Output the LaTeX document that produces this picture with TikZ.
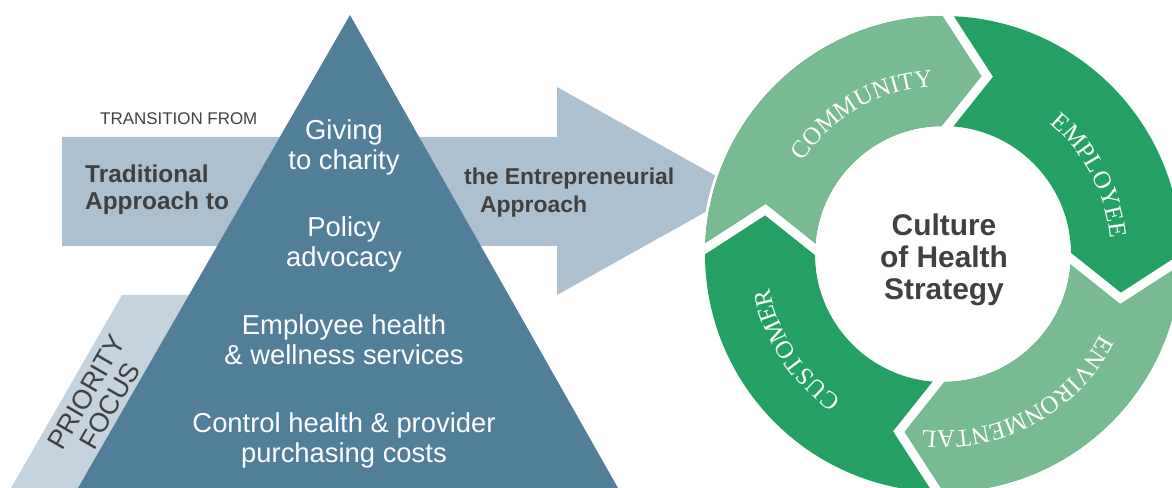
\documentclass[tikz,border=0pt]{standalone}
\usepackage{fontspec}
\setmainfont{Liberation Sans}
\newfontfamily\ringfont{Liberation Serif}
\newcommand\ringsize{\fontsize{25}{25}\selectfont}
\usetikzlibrary{decorations.text}
\definecolor{tricolor}{HTML}{517F99}
\definecolor{arrowcolor}{HTML}{ADC0CF}
\definecolor{bandcolor}{HTML}{C5D3DE}
\definecolor{ltgreen}{HTML}{78BA92}
\definecolor{dkgreen}{HTML}{25A065}
\definecolor{textgray}{HTML}{404040}
\tikzset{
  tritext/.style={text=white, align=center, inner sep=0pt, anchor=base, font=\fontsize{27.5}{31}\selectfont},
  graytext/.style={text=textgray, inner sep=0pt, font=\bfseries\fontsize{24.5}{27.5}\selectfont},
  ringlabel/.style={decorate, decoration={text along path, text align=center, text color=white}},
}
\begin{document}
\begin{tikzpicture}[x=1bp,y=1bp]
            \useasboundingbox (0,0) rectangle (1172,488);
            %\draw[gray,very thin,step=50] (0,0) grid (1172,488);
            % transition arrow, band and pyramid
            \fill[arrowcolor] (62,351) -- (557,351) -- (557,401) -- (743,297) -- (557,193) -- (557,242) -- (62,242) -- cycle;
            \fill[bandcolor] (122,193) -- (260,193) -- (149,0) -- (11,0) -- cycle;
            \fill[tricolor] (350,473) -- (618,0) -- (78,0) -- cycle;
            \node[graytext, font=\fontsize{17}{18}\selectfont, anchor=base west] (from) at (100,363) {TRANSITION FROM};
            \node[graytext, align=left, anchor=base west] (trad) at (85,278) {Traditional\\Approach to};
            \node[graytext, font=\bfseries\fontsize{23}{29}\selectfont, align=left, anchor=base west] (entre) at (464,275) {the Entrepreneurial\\\hspace*{16bp}Approach};
            \node[text=textgray, font=\fontsize{27}{27}\selectfont, align=center, rotate=60] (focus) at (98,89) {PRIORITY\\FOCUS};
            \node[tritext] (giving) at (344,318) {Giving\\to charity};
            \node[tritext] (policy) at (344,221) {Policy\\advocacy};
            \node[tritext] (employee) at (344,123) {Employee health\\\& wellness services};
            \node[tritext] (control) at (344,25) {Control health \& provider\\purchasing costs};
            % the ring
            \begin{scope}[shift={(943,234)}]
            \fill[white] (0,0) circle[radius=241];
            \fill[dkgreen, even odd rule] (0,0) circle[radius=238] (0,0) circle[radius=128];
            \fill[ltgreen] (180:238) arc[start angle=180, end angle=90, radius=238] -- (76:183) -- (90:128) arc[start angle=90, end angle=180, radius=128] -- (166:183) -- cycle;
            \fill[ltgreen] (0:238) arc[start angle=0, end angle=-90, radius=238] -- (-104:183) -- (-90:128) arc[start angle=-90, end angle=0, radius=128] -- (-14:183) -- cycle;
            \foreach \a in {90,0,-90,180}
            \draw[white, line width=9pt, miter limit=10] (\a:246) -- (\a-14:183) -- (\a:122);
            \path[ringlabel, decoration={text={|\ringfont\ringsize|COMMUNITY}}] (190:168) arc[start angle=190, end angle=50, radius=168];
            \path[ringlabel, decoration={text={|\ringfont\ringsize|EMPLOYEE}}] (98:168) arc[start angle=98, end angle=-42, radius=168];
            \path[ringlabel, decoration={text={|\ringfont\ringsize|ENVIRONMENTAL}}] (8:177) arc[start angle=8, end angle=-132, radius=177];
            \path[ringlabel, decoration={text={|\ringfont\ringsize|CUSTOMER}}] (-77:177) arc[start angle=-77, end angle=-217, radius=177];
            \end{scope}
            \node[text=textgray, font=\bfseries\fontsize{30}{32.5}\selectfont, align=center, anchor=base] (culture) at (944,188) {Culture\\of Health\\Strategy};
\end{tikzpicture}
\end{document}
